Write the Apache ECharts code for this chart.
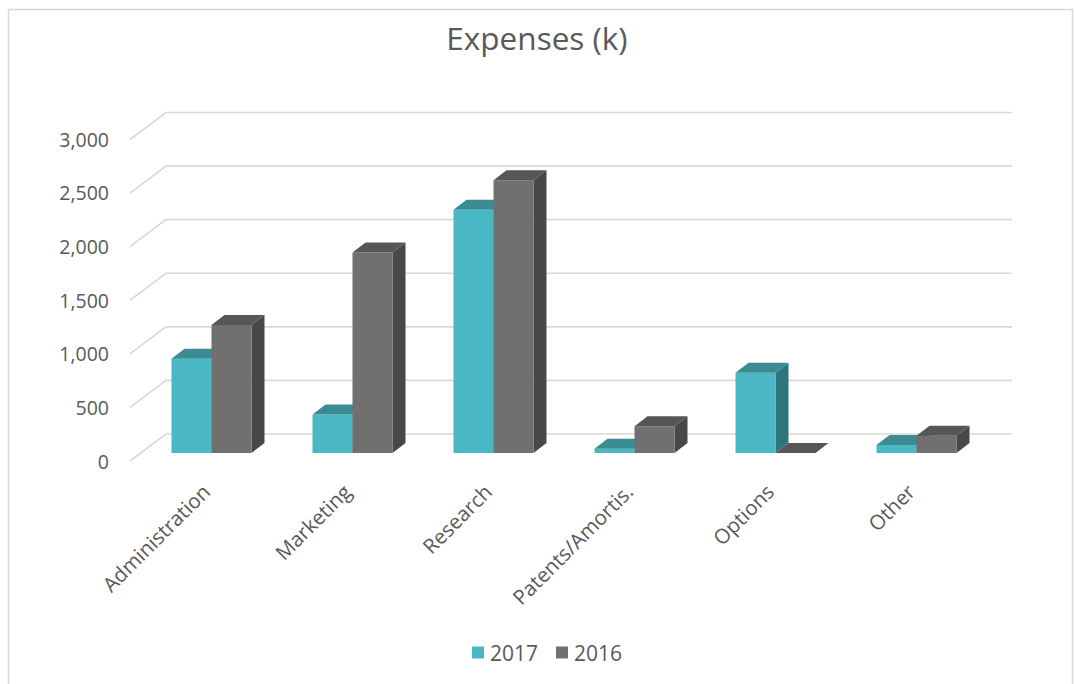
<!DOCTYPE html>
<html>
<head>
<meta charset="utf-8">
<title>Expenses (k)</title>
<script src="https://cdn.jsdelivr.net/npm/echarts@6/dist/echarts.min.js"></script>
<style>
  html, body { margin: 0; padding: 0; background: #fff; }
  #main { width: 1074px; height: 684px; }
</style>
</head>
<body>
<div id="main"></div>
<script>
// data
var categories = ['Administration', 'Marketing', 'Research', 'Patents/Amortis.', 'Options', 'Other'];
var values2017 = [880, 360, 2270, 40, 750, 75];
var values2016 = [1195, 1870, 2545, 250, 0, 160];
var yTicks = [0, 500, 1000, 1500, 2000, 2500, 3000];

// 3d look: depth offsets in px, relative to the plane of the bars' front faces
var BAR_DEPTH = [13, -10];
var WALL_BACK = [25, -19];
var WALL_FRONT = [-11, 8];
var BAR_FRAC = 40 / 141;

var textColor = '#595959';
var font = 'Open Sans';

function bar3d(side, colors) {
    return function (params, api) {
        var idx = api.value(0), v = api.value(1);
        var base = api.coord([idx, 0]);
        var top = api.coord([idx, v]);
        var w = api.size([1, 0])[0] * BAR_FRAC;
        var x0 = side < 0 ? base[0] - w : base[0];
        var x1 = x0 + w;
        var yb = base[1], yt = top[1];
        var dx = BAR_DEPTH[0], dy = BAR_DEPTH[1];
        return {
            type: 'group',
            children: [
                { type: 'polygon', shape: { points: [[x1, yb], [x1 + dx, yb + dy], [x1 + dx, yt + dy], [x1, yt]] }, style: { fill: colors.side } },
                { type: 'rect', shape: { x: x0, y: yt, width: w, height: yb - yt }, style: { fill: colors.front } },
                { type: 'polygon', shape: { points: [[x0, yt], [x1, yt], [x1 + dx, yt + dy], [x0 + dx, yt + dy]] }, style: { fill: colors.top } }
            ]
        };
    };
}

function wallLine(params, api) {
    var y = api.coord([0, api.value(1)])[1];
    var x = params.coordSys.x, w = params.coordSys.width;
    return {
        type: 'polyline',
        shape: { points: [[x + WALL_FRONT[0], y + WALL_FRONT[1]], [x + WALL_BACK[0], y + WALL_BACK[1]], [x + w + WALL_BACK[0], y + WALL_BACK[1]]] },
        style: { stroke: '#d9d9d9', lineWidth: 1.6, fill: null }
    };
}

var teal = { front: '#4ab8c4', top: '#3a8b92', side: '#2d767c' };
var gray = { front: '#716f70', top: '#575655', side: '#484847' };

var myChart = echarts.init(document.getElementById('main'), null, { renderer: 'svg' });
var option = {
    backgroundColor: '#fff',
    animation: false,
    textStyle: { fontFamily: font },
    graphic: [{
        type: 'rect',
        shape: { x: 8.5, y: 9.5, width: 1064, height: 700 },
        style: { stroke: '#d9d9d9', lineWidth: 1.5, fill: null },
        z: -10
    }],
    title: {
        text: 'Expenses (k)',
        left: 'center',
        top: 16,
        textStyle: { fontFamily: font, fontSize: 31.5, fontWeight: 'normal', color: textColor }
    },
    legend: {
        bottom: 16,
        left: 467,
        itemWidth: 12,
        itemHeight: 12,
        itemGap: 18,
        textStyle: { fontFamily: font, fontSize: 21, color: textColor, padding: [0, 0, 0, 1] },
        data: [{ name: '2017', icon: 'rect' }, { name: '2016', icon: 'rect' }]
    },
    grid: [
        { left: 141, top: 131.5, width: 846, height: 321.5 },
        { left: 130, top: 139, width: 846, height: 322 }
    ],
    xAxis: [{
        gridIndex: 0,
        type: 'category',
        data: categories,
        axisLine: { show: false },
        axisTick: { show: false },
        axisLabel: { rotate: 45, margin: 29, padding: [0, 8, 0, 0], fontSize: 20.5, color: textColor, fontFamily: font, interval: 0 }
    }, {
        gridIndex: 1,
        type: 'category',
        data: categories,
        show: false
    }],
    yAxis: [{
        gridIndex: 0,
        type: 'value',
        min: 0, max: 3000, interval: 500,
        show: false,
        splitLine: { show: false }
    }, {
        gridIndex: 1,
        type: 'value',
        min: 0, max: 3000, interval: 500,
        axisLine: { show: false },
        axisTick: { show: false },
        splitLine: { show: false },
        axisLabel: {
            margin: 21, fontSize: 19.5, color: textColor, fontFamily: font,
            formatter: function (v) { return v.toLocaleString('en-US'); }
        }
    }],
    series: [{
        type: 'custom',
        name: 'wall',
        xAxisIndex: 0, yAxisIndex: 0,
        renderItem: wallLine,
        data: yTicks.map(function (v) { return [0, v]; }),
        encode: { x: 0, y: 1 },
        silent: true,
        z: 1
    }, {
        type: 'custom',
        name: '2017',
        xAxisIndex: 0, yAxisIndex: 0,
        renderItem: bar3d(-1, teal),
        itemStyle: { color: teal.front },
        data: values2017.map(function (v, i) { return [i, v]; }),
        encode: { x: 0, y: 1 },
        z: 2
    }, {
        type: 'custom',
        name: '2016',
        xAxisIndex: 0, yAxisIndex: 0,
        renderItem: bar3d(1, gray),
        itemStyle: { color: gray.front },
        data: values2016.map(function (v, i) { return [i, v]; }),
        encode: { x: 0, y: 1 },
        z: 3
    }]
};
myChart.setOption(option);
</script>
</body>
</html>
